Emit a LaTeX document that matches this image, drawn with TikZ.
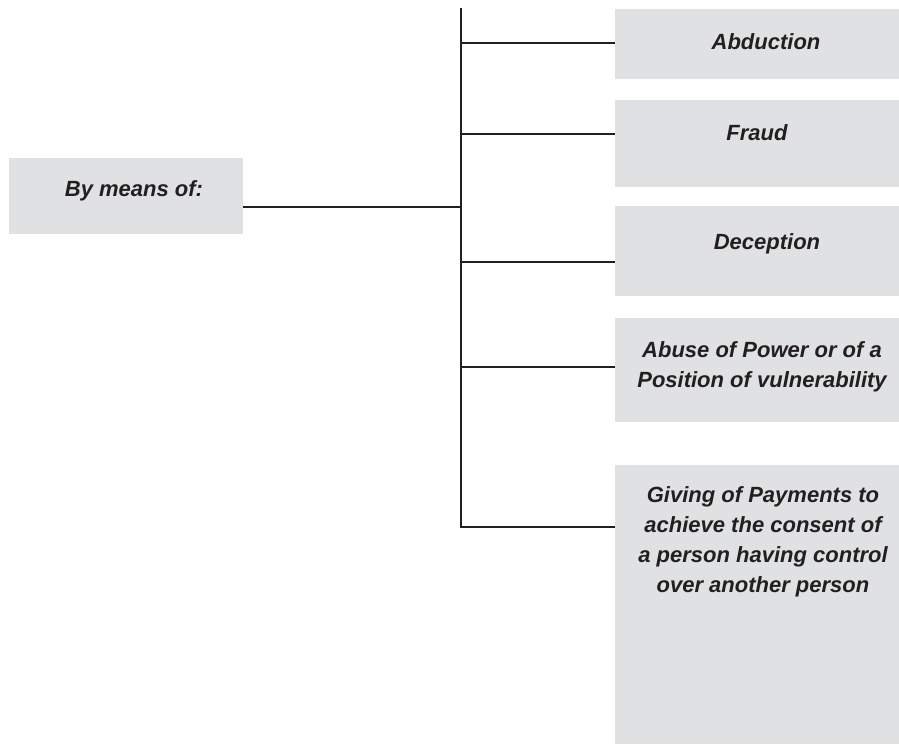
\documentclass[tikz,border=0pt]{standalone}
\usepackage{fontspec}
\setmainfont{Liberation Sans}
\definecolor{boxgray}{HTML}{E0E1E3}
\definecolor{ink}{HTML}{231F20}
\begin{document}
\begin{tikzpicture}[x=1pt,y=-1pt,
  graybox/.style={fill=boxgray,draw=none,inner sep=0pt,anchor=north west},
  lbl/.style={text=ink,font=\fontsize{22}{30}\selectfont\bfseries\itshape,align=center,inner sep=0pt},
  conn/.style={draw=ink,line width=1.8pt}]
\useasboundingbox (0,0) rectangle (899,744);
% boxes
\node[graybox,minimum width=234pt,minimum height=76pt] (lb) at (9,158) {};
\node[graybox,minimum width=284pt,minimum height=70pt] (b1) at (615,9) {};
\node[graybox,minimum width=284pt,minimum height=87pt] (b2) at (615,100) {};
\node[graybox,minimum width=284pt,minimum height=90pt] (b3) at (615,206) {};
\node[graybox,minimum width=284pt,minimum height=104pt] (b4) at (615,318) {};
\node[graybox,minimum width=284pt,minimum height=279pt] (b5) at (615,465) {};
% labels
\node[lbl] (t0) at (134,191) {By means of:};
\node[lbl] (t1) at (766,42) {Abduction};
\node[lbl] (t2) at (757,133) {Fraud};
\node[lbl] (t3) at (767,244) {Deception};
\node[lbl] (t4) at (762,367) {Abuse of Power or of a\\Position of vulnerability};
\node[lbl] (t5) at (763,542) {Giving of Payments to\\achieve the consent of\\a person having control\\over another person};
% trunk and junctions
\coordinate (top) at (461,8);
\coordinate (bot) at (461,527);
\coordinate (jl) at (461,207);
\coordinate (j1) at (461,43);
\coordinate (j2) at (461,134);
\coordinate (j3) at (461,262);
\coordinate (j4) at (461,367);
\draw[conn] (top) -- (bot) -- (bot -| b5.west);
\draw[conn] (jl -| lb.east) -- (jl);
\draw[conn] (j1) -- (j1 -| b1.west);
\draw[conn] (j2) -- (j2 -| b2.west);
\draw[conn] (j3) -- (j3 -| b3.west);
\draw[conn] (j4) -- (j4 -| b4.west);
\end{tikzpicture}
\end{document}
